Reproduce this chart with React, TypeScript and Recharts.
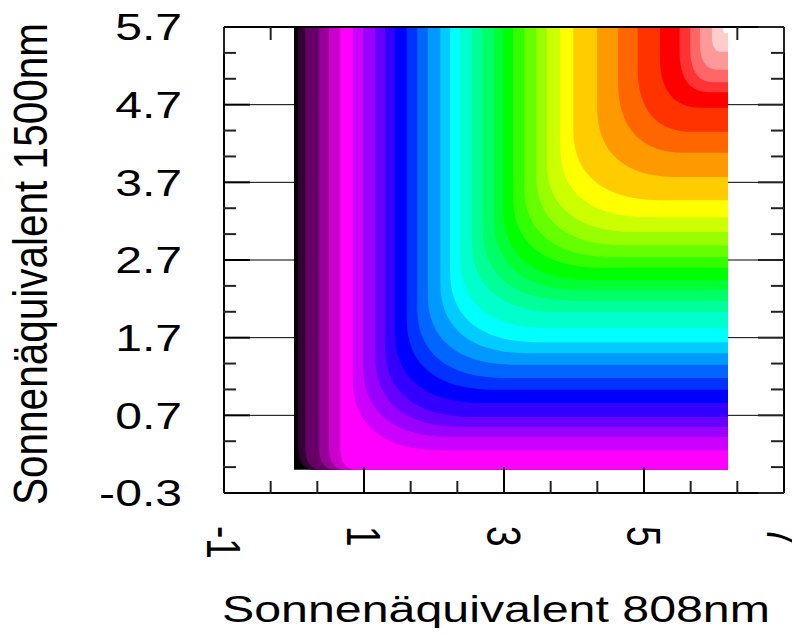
import React from "react";
import { ComposedChart, XAxis, YAxis, CartesianGrid, ReferenceArea } from "recharts";

// ---- axis ticks ----
const xMajorTicks = [-1, 1, 3, 5, 7];
const xMinorTicks = [-0.3333, 0.3333, 1.6667, 2.3333, 3.6667, 4.3333, 5.6667, 6.3333];
const yMajorTicks = [-0.3, 0.7, 1.7, 2.7, 3.7, 4.7, 5.7];
const yMinorTicks = [0.0333, 0.3667, 1.0333, 1.3667, 2.0333, 2.3667, 3.0333, 3.3667, 4.0333, 4.3667, 5.0333, 5.3667];

// ---- contour bands (lowest level first) ----
const bandColors = [
  "#000000", "#330033", "#660066", "#990099", "#cc00cc", "#ff00ff",
  "#cc00ff", "#9900ff", "#6600ff", "#3300ff", "#0000ff",
  "#0033ff", "#0066ff", "#0099ff", "#00ccff", "#00ffff",
  "#00ffcc", "#00ff99", "#00ff66", "#00ff33", "#00ff00",
  "#33ff00", "#66ff00", "#99ff00", "#ccff00", "#ffff00",
  "#ffcc00", "#ff9900", "#ff6600", "#ff3300", "#ff0000",
  "#ff3333", "#ff6666", "#ff9999", "#ffcccc", "#ffffff",
];
// x (808nm) where each level starts along the top edge
const bandStartX = [
  0, 0.06, 0.16, 0.36, 0.5, 0.66,
  0.84, 0.99, 1.16, 1.3, 1.44,
  1.61, 1.76, 1.91, 2.09, 2.23,
  2.37, 2.54, 2.7, 2.86, 2.99,
  3.13, 3.29, 3.46, 3.61, 3.8,
  3.99, 4.33, 4.63, 4.91, 5.23,
  5.51, 5.66, 5.8, 5.97, 6.13,
];
// y (1500nm) where each level starts along the right edge
const bandStartY = [
  0, 0, 0, 0, 0, 0,
  0.25, 0.42, 0.55, 0.68, 0.86,
  1.03, 1.18, 1.35, 1.5, 1.64,
  1.82, 2.03, 2.18, 2.31, 2.44,
  2.6, 2.74, 2.89, 3.06, 3.25,
  3.47, 3.77, 4.08, 4.35, 4.66,
  4.86, 4.99, 5.15, 5.38, 5.62,
];
const surfaceEndX = 6.2;
const surfaceEndY = 5.7;

const FONT = "'Liberation Sans', Arial, Helvetica, sans-serif";
const FS = 37;
const MAJOR_LEN = 26;
const MINOR_LEN = 13;

const isIn = (v: number, arr: number[]) => arr.some((a) => Math.abs(a - v) < 1e-6);

function BandShape(props: any) {
  const { x, y, width, height, fill, bend } = props;
  if (!(width > 0) || !(height > 0)) return <g />;
  const b = y + height;
  let rx = 0;
  let ry = 0;
  if (bend === "wide") {
    rx = Math.min(88, width * 0.6);
    ry = Math.min(70, height * 0.6);
  } else if (bend === "small") {
    rx = Math.min(16, width * 0.5);
    ry = Math.min(22, height * 0.5);
  }
  const k = 0.35;
  const d =
    rx > 0
      ? `M${x},${y}H${x + width}V${b}H${x + rx}C${x + rx * k},${b} ${x},${b - ry * k} ${x},${b - ry}Z`
      : `M${x},${y}H${x + width}V${b}H${x}Z`;
  return <path d={d} fill={fill} stroke="none" />;
}

const BottomMajorTick = (p: any) => {
  const { x, y, payload } = p;
  return (
    <g>
      <line x1={x} y1={y} x2={x} y2={y - MAJOR_LEN} stroke="#000" strokeWidth={2} />
      <text
        transform={`translate(${x},${y + 33}) scale(1.3,1) rotate(90)`}
        fontSize={FS}
        fontFamily={FONT}
        textAnchor="start"
        dy="0.36em"
        fill="#000"
      >
        {String(payload.value)}
      </text>
    </g>
  );
};

const BottomMinorTick = (p: any) => {
  const { x, y } = p;
  return <line x1={x} y1={y} x2={x} y2={y - MINOR_LEN} stroke="#222" strokeWidth={2} />;
};

const TopTick = (p: any) => {
  const { x, y, payload } = p;
  const v = payload.value;
  if (v > bandStartX[0] && v < surfaceEndX) return <g />;
  const len = isIn(v, xMajorTicks) ? MAJOR_LEN : MINOR_LEN;
  return <line x1={x} y1={y} x2={x} y2={y + len} stroke="#222" strokeWidth={2} />;
};

const LeftMajorTick = (p: any) => {
  const { x, y, payload } = p;
  return (
    <g>
      <line x1={x} y1={y} x2={x + MAJOR_LEN} y2={y} stroke="#000" strokeWidth={2} />
      <text
        transform={`translate(${x - 42},${y}) scale(1.3,1)`}
        fontSize={FS}
        fontFamily={FONT}
        textAnchor="end"
        dy="0.36em"
        fill="#000"
      >
        {Number(payload.value).toFixed(1)}
      </text>
    </g>
  );
};

const LeftMinorTick = (p: any) => {
  const { x, y } = p;
  return <line x1={x} y1={y} x2={x + MINOR_LEN} y2={y} stroke="#222" strokeWidth={2} />;
};

const RightTick = (p: any) => {
  const { x, y, payload } = p;
  const len = isIn(payload.value, yMajorTicks) ? MAJOR_LEN : MINOR_LEN;
  return <line x1={x} y1={y} x2={x - len} y2={y} stroke="#222" strokeWidth={2} />;
};

const XTitle = (props: any) => {
  const vb = props.viewBox || { x: 216, y: 485, width: 560 };
  return (
    <text
      x={vb.x + vb.width / 2 - 8}
      y={vb.y + 129}
      fontSize={FS}
      fontFamily={FONT}
      textAnchor="middle"
      textLength={548}
      lengthAdjust="spacingAndGlyphs"
      fill="#000"
    >
      Sonnenäquivalent 808nm
    </text>
  );
};

const YTitle = (props: any) => {
  const vb = props.viewBox || { x: 215, y: 19, width: 1, height: 466 };
  const cx = vb.x + (vb.width || 0) - 177;
  const cy = vb.y + vb.height / 2 + 4;
  return (
    <text
      transform={`translate(${cx},${cy}) scale(1.3,1) rotate(-90)`}
      fontSize={FS}
      fontFamily={FONT}
      textAnchor="middle"
      textLength={482}
      lengthAdjust="spacingAndGlyphs"
      fill="#000"
    >
      Sonnenäquivalent 1500nm
    </text>
  );
};

const axisStroke = { stroke: "#000", strokeWidth: 2 };

export default function App() {
  return (
    <ComposedChart
      width={792}
      height={620}
      data={[]}
      margin={{ top: 18, right: 15, bottom: 133, left: 214 }}
    >
      <CartesianGrid stroke="#000" strokeWidth={1} xAxisId={0} yAxisId={0} />
      <XAxis
        xAxisId={0}
        type="number"
        dataKey="x"
        domain={[-1, 7]}
        allowDataOverflow
        ticks={xMajorTicks}
        interval={0}
        height={1}
        tickSize={0}
        tickMargin={0}
        tickLine={false}
        axisLine={axisStroke}
        tick={BottomMajorTick}
        label={{ content: XTitle }}
      />
      <XAxis
        xAxisId="bm"
        type="number"
        dataKey="x"
        domain={[-1, 7]}
        allowDataOverflow
        ticks={xMinorTicks}
        interval={0}
        height={1}
        tickSize={0}
        tickMargin={0}
        tickLine={false}
        axisLine={false}
        tick={BottomMinorTick}
      />
      <XAxis
        xAxisId="t"
        orientation="top"
        type="number"
        dataKey="x"
        domain={[-1, 7]}
        allowDataOverflow
        ticks={[...xMajorTicks, ...xMinorTicks]}
        interval={0}
        height={1}
        tickSize={0}
        tickMargin={0}
        tickLine={false}
        axisLine={axisStroke}
        tick={TopTick}
      />
      <YAxis
        yAxisId={0}
        type="number"
        dataKey="y"
        domain={[-0.3, 5.7]}
        allowDataOverflow
        ticks={yMajorTicks}
        interval={0}
        width={1}
        tickSize={0}
        tickMargin={0}
        tickLine={false}
        axisLine={axisStroke}
        tick={LeftMajorTick}
        label={{ content: YTitle }}
      />
      <YAxis
        yAxisId="lm"
        type="number"
        dataKey="y"
        domain={[-0.3, 5.7]}
        allowDataOverflow
        ticks={yMinorTicks}
        interval={0}
        width={1}
        tickSize={0}
        tickMargin={0}
        tickLine={false}
        axisLine={false}
        tick={LeftMinorTick}
      />
      <YAxis
        yAxisId="r"
        orientation="right"
        type="number"
        dataKey="y"
        domain={[-0.3, 5.7]}
        allowDataOverflow
        ticks={[...yMajorTicks, ...yMinorTicks]}
        interval={0}
        width={1}
        tickSize={0}
        tickMargin={0}
        tickLine={false}
        axisLine={axisStroke}
        tick={RightTick}
      />
      {bandColors.map((c, i) => (
        <ReferenceArea
          key={i}
          xAxisId={0}
          yAxisId={0}
          x1={bandStartX[i]}
          x2={surfaceEndX}
          y1={bandStartY[i]}
          y2={surfaceEndY}
          fill={c}
          fillOpacity={1}
          stroke="none"
          ifOverflow="visible"
          shape={(p: any) => (
            <BandShape {...p} fill={c} bend={i === 0 ? "none" : bandStartY[i] > 0 ? "wide" : "small"} />
          )}
        />
      ))}
    </ComposedChart>
  );
}
